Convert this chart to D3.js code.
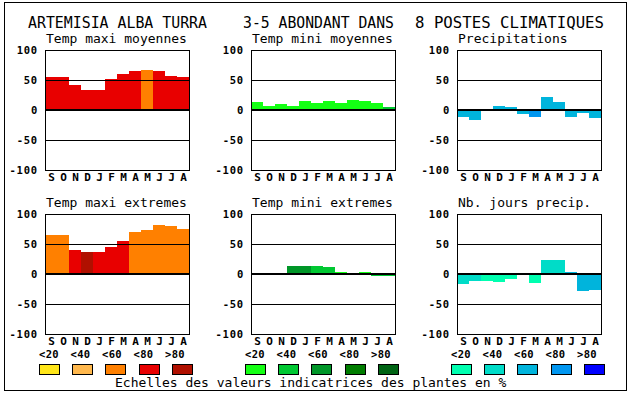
<!DOCTYPE html>
<html><head><meta charset="utf-8">
<script src="https://cdn.jsdelivr.net/npm/d3@7"></script>
<style>
html,body{margin:0;padding:0;background:#fff;}
svg{display:block;}
</style></head>
<body>
<svg id="chart" width="630" height="394"></svg>
<script>
// ---------- DATA ----------
const months = ["S","O","N","D","J","F","M","A","M","J","J","A"];
const titleParts = ["ARTEMISIA ALBA TURRA", "3-5 ABONDANT DANS", "8 POSTES CLIMATIQUES"];
const panelTitles = ["Temp maxi moyennes","Temp mini moyennes","Precipitations",
                     "Temp maxi extremes","Temp mini extremes","Nb. jours precip."];
const yTicks = [100, 50, 0, -50, -100];
const scaleLabels = ["<20","<40","<60","<80",">80"];
const footer = "Echelles des valeurs indicatrices des plantes en %";

const tempPalette  = ["#ffe619","#ffb84d","#ff8000","#e80000","#b01000"];
const frostPalette = ["#14ff14","#00c832","#009628","#007d00","#006414"];
const rainPalette  = ["#00ffb0","#00dcc8","#00b4dc","#0096f0","#0000ff"];

const tmaxMoy      = [55,55,42,33,33,52,60,65,67,65,57,55];
const tmaxMoyCls   = [3,3,3,3,3,3,3,3,2,3,3,3];
const tminMoy      = [13,7,10,7,15,12,15,12,17,15,12,5];
const tminMoyCls   = [0,0,0,0,0,0,0,0,0,0,0,1];
const precip       = [-11,-17,2,7,5,-7,-12,22,13,-12,-5,-13];
const precipCls    = [2,2,2,2,2,2,3,2,2,2,2,2];
const tmaxExt      = [65,65,40,37,37,45,55,70,73,82,80,75];
const tmaxExtCls   = [2,2,3,4,3,3,3,2,2,2,2,2];
const tminExt      = [0,2,0,13,13,14,11,4,2,4,-4,-4];
const tminExtCls   = [1,2,1,2,2,1,1,0,2,0,1,1];
const rainDays     = [-16,-11,-11,-13,-8,2,-15,23,23,3,-28,-27];
const rainDaysCls  = [1,1,0,0,0,0,0,1,1,2,2,2];

const panels = [
  {title: panelTitles[0], values: tmaxMoy,  cls: tmaxMoyCls,  pal: tempPalette,  col: 0, row: 0},
  {title: panelTitles[1], values: tminMoy,  cls: tminMoyCls,  pal: frostPalette, col: 1, row: 0},
  {title: panelTitles[2], values: precip,   cls: precipCls,   pal: rainPalette,  col: 2, row: 0},
  {title: panelTitles[3], values: tmaxExt,  cls: tmaxExtCls,  pal: tempPalette,  col: 0, row: 1},
  {title: panelTitles[4], values: tminExt,  cls: tminExtCls,  pal: frostPalette, col: 1, row: 1},
  {title: panelTitles[5], values: rainDays, cls: rainDaysCls, pal: rainPalette,  col: 2, row: 1}
];
const legendPalettes = [tempPalette, frostPalette, rainPalette];

// ---------- LAYOUT ----------
const colLeft = [45, 251, 457];
const rowTop = [50, 214];
const PW = 144, PH = 120;
const monoFont = "'DejaVu Sans Mono', 'Liberation Mono', monospace";

const svg = d3.select("#chart");

// outer frame
svg.append("rect").attr("x",4.5).attr("y",2.5).attr("width",622).attr("height",388)
  .attr("fill","none").attr("stroke","#000").attr("stroke-width",1);

// main title
const titleX = [28, 243, 415], titleW = [179, 151, 189];
titleParts.forEach((t,i)=>{
  svg.append("text").attr("x",titleX[i]).attr("y",28)
    .attr("font-family",monoFont).attr("font-size",15)
    .attr("textLength",titleW[i]).attr("lengthAdjust","spacingAndGlyphs")
    .attr("fill","#000").text(t);
});

panels.forEach(p=>{
  const L = colLeft[p.col], T = rowTop[p.row];
  const x = d3.scaleBand().domain(d3.range(months.length)).range([L, L+PW]).padding(0);
  const y = d3.scaleLinear().domain([-100,100]).range([T+PH, T]);
  const g = svg.append("g");

  // title
  g.append("text").attr("x",L+1).attr("y",T-7)
    .attr("font-family",monoFont).attr("font-size",13).attr("fill","#000").text(p.title);

  // bars
  g.selectAll("rect.bar").data(p.values).join("rect").attr("class","bar")
    .attr("x",(d,i)=>x(i)).attr("width",x.bandwidth())
    .attr("y",d=>y(Math.max(d,0))).attr("height",d=>Math.abs(y(d)-y(0)))
    .attr("fill",(d,i)=>p.pal[p.cls[i]])
    .attr("shape-rendering","crispEdges");

  // grid lines at +-50
  [50,-50].forEach(v=>{
    g.append("line").attr("x1",L).attr("x2",L+PW)
      .attr("y1",y(v)+0.5).attr("y2",y(v)+0.5)
      .attr("stroke","#000").attr("stroke-width",1);
  });
  // zero line
  g.append("line").attr("x1",L).attr("x2",L+PW).attr("y1",y(0)).attr("y2",y(0))
    .attr("stroke","#000").attr("stroke-width",2);

  // frame
  g.append("rect").attr("x",L+0.5).attr("y",T+0.5).attr("width",PW).attr("height",PH)
    .attr("fill","none").attr("stroke","#000").attr("stroke-width",1);

  // y tick labels
  g.selectAll("text.yt").data(yTicks).join("text").attr("class","yt")
    .attr("x",L-7).attr("y",d=>y(d)+0.5).attr("dy","0.36em")
    .attr("text-anchor","end").attr("font-family",monoFont).attr("font-weight","bold")
    .attr("font-size",10.5).attr("letter-spacing",0.8).attr("fill","#000")
    .text(d=>String(d));

  // month labels
  g.selectAll("text.mt").data(months).join("text").attr("class","mt")
    .attr("x",(d,i)=>x(i)+x.bandwidth()/2+0.5).attr("y",T+PH+11)
    .attr("text-anchor","middle").attr("font-family",monoFont).attr("font-weight","bold")
    .attr("font-size",11).attr("fill","#000").text(d=>d);
});

// legend
legendPalettes.forEach((pal,k)=>{
  const L = colLeft[k];
  scaleLabels.forEach((lab,i)=>{
    svg.append("text").attr("x",L+4+i*31.5).attr("y",358)
      .attr("text-anchor","middle").attr("font-family",monoFont).attr("font-weight","bold")
      .attr("font-size",10.5).attr("letter-spacing",0.3).attr("fill","#000").text(lab);
  });
  svg.selectAll(null).data(pal).join("rect")
    .attr("x",(d,i)=>L-6+Math.round(i*33.2)+0.5).attr("y",364.5)
    .attr("width",20).attr("height",10)
    .attr("fill",d=>d).attr("stroke","#000").attr("stroke-width",1);
});

svg.append("text").attr("x",115).attr("y",387)
  .attr("font-family",monoFont).attr("font-size",13).attr("fill","#000").text(footer);
</script>
</body></html>
